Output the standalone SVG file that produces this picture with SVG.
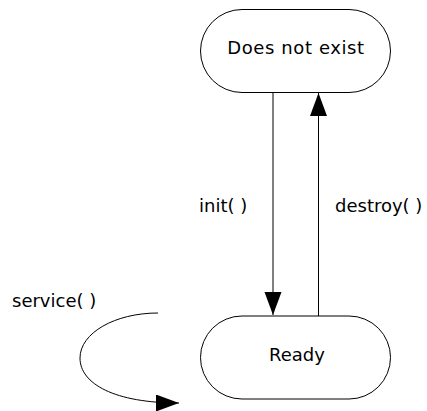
<svg xmlns="http://www.w3.org/2000/svg" width="427" height="411" viewBox="0 0 427 411">
<style>
.node{fill:#fff;stroke:#000;stroke-width:1}
.t{font-family:"DejaVu Sans",sans-serif;font-size:18px;fill:#000}
.c{fill:none;stroke:#000;stroke-width:1}
</style>
<defs>
<marker id="ah" markerUnits="userSpaceOnUse" markerWidth="24" markerHeight="18" refX="23" refY="8.5" orient="auto">
<path d="M0,0 L23,8.5 L0,17 Z" fill="#000"/>
</marker>
</defs>
<rect width="427" height="411" fill="#fff"/>
<g id="does-not-exist">
<rect class="node" x="200.5" y="9.5" width="190" height="83" rx="41.5" ry="41.5"/>
<text class="t" x="296" y="54" text-anchor="middle" letter-spacing="0.6">Does not exist</text>
</g>
<g id="ready">
<rect class="node" x="200.5" y="316" width="190" height="83" rx="41.5" ry="41.5"/>
<text class="t" x="297" y="361" text-anchor="middle">Ready</text>
</g>
<g id="connectors">
<path class="c" d="M273,93 L273,315" marker-end="url(#ah)"/>
<path class="c" d="M318.5,316 L318.5,93" marker-end="url(#ah)"/>
<path class="c" d="M158,313 C115,313 80,333 80,358 C80,384 115,403 179,403" marker-end="url(#ah)"/>
<text class="t" x="199" y="212">init( )</text>
<text class="t" x="335" y="212">destroy( )</text>
<text class="t" x="12" y="307">service( )</text>
</g>
</svg>
